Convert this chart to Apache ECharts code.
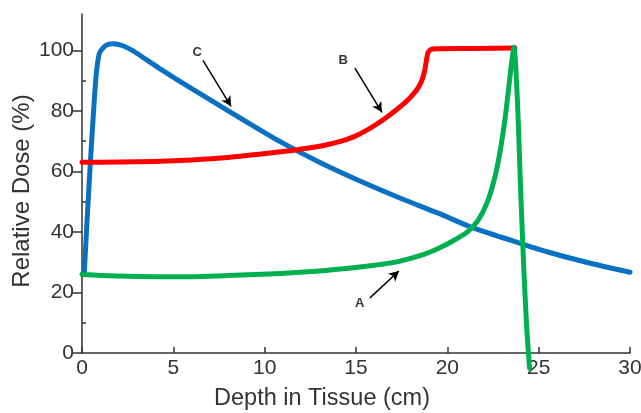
<!DOCTYPE html>
<html>
<head>
    <meta charset="UTF-8">
    <title>Relative Dose vs Depth</title>
    <script src="https://cdn.jsdelivr.net/npm/echarts@6/dist/echarts.min.js"></script>
</head>
<body style="margin: 0;padding: 0;">
    <div id="container" style="width:641px; height:413px;"></div>
    <script>
        // curve C (blue)
        var depthC = [0.12, 0.4, 0.75, 0.95, 1.3, 1.7, 2.2, 2.8, 3.5, 4.3, 5.4, 7.2, 9.0, 10.8, 13, 15, 17.4, 19.5, 21.3, 23.5, 25.6, 28, 30];
        var doseC = [26, 57, 90, 99, 101.6, 102.2, 101.6, 99.8, 97.0, 93.8, 89.6, 83.0, 76.4, 70.0, 63, 57.4, 51.2, 46.2, 41.6, 37.2, 33.2, 29.4, 26.7];
        // curve B (red)
        var depthB = [0, 2, 4, 6, 8, 9.7, 11.6, 12.5, 13.4, 14.2, 14.9, 15.5, 16.1, 16.7, 17.2, 17.7, 18.1, 18.4, 18.6, 18.75, 18.85, 18.95, 19.1, 19.4, 21.5, 23.7];
        var doseB = [63, 63.1, 63.3, 63.8, 64.6, 65.7, 67, 67.8, 68.8, 70.0, 71.5, 73.3, 75.5, 78, 80.3, 82.8, 85.3, 87.6, 90, 93, 96.5, 99.3, 100.3, 100.5, 100.6, 100.8];
        // curve A (green)
        var depthA = [0, 1, 3, 5.5, 8, 10.9, 13, 14.6, 16, 17.3, 18.6, 19.5, 20.3, 21.1, 21.7, 22.2, 22.6, 22.9, 23.15, 23.35, 23.5, 23.65, 23.8, 23.9, 24.0, 24.1, 24.2, 24.35, 24.5];
        var doseA = [26, 25.6, 25.3, 25.2, 25.6, 26.3, 27.1, 28, 29, 30.2, 32.3, 34.5, 37, 40, 44, 50, 58, 67, 77, 87, 95, 101, 88, 73.6, 56, 40.6, 26, 8, -5];

        var xTicks = [0, 5, 10, 15, 20, 25, 30];
        var yTicks = [0, 20, 40, 60, 80, 100];
        var yMinorTicks = [10, 30, 50, 70, 90];

        // letters and arrows pointing at the curves
        var labelNames = ['C', 'B', 'A'];
        var labelPos = [[6.3, 99.3], [14.3, 96.7], [15.2, 16.5]];
        var arrowFrom = [[6.62, 96.7], [14.94, 94.1], [15.76, 18.2]];
        var arrowTo = [[8.16, 81.5], [16.42, 79.5], [17.35, 27.1]];

        function zip(xs, ys) {
            return xs.map((x, i) => [x, ys[i]]);
        }

        var chart = echarts.init(document.getElementById('container'), null, {renderer: 'canvas'});
        var axisColor = '#333';
        var font = 'Liberation Sans, Arial, sans-serif';

        function curve(name, data, color, clip) {
            return {
                type: 'line',
                name: name,
                data: data,
                showSymbol: false,
                smooth: 0.25,
                clip: clip,
                lineStyle: {color: color, width: 5, cap: 'round', join: 'round'},
                z: 3
            };
        }

        var option = {
            animation: false,
            grid: {left: 82, right: 11, top: 14, bottom: 60, outerBoundsMode: 'none'},
            xAxis: {
                type: 'value',
                min: 0, max: 30, interval: 5,
                name: 'Depth in Tissue (cm)',
                nameLocation: 'middle',
                nameGap: 34,
                nameMoveOverlap: false,
                nameTextStyle: {fontSize: 23.5, color: axisColor, fontFamily: font, padding: [0, 68, 0, 0]},
                axisLine: {lineStyle: {color: axisColor, width: 1.5}},
                axisTick: {inside: true, length: 6, lineStyle: {color: axisColor, width: 1.5}, customValues: xTicks},
                axisLabel: {fontSize: 21, color: axisColor, fontFamily: font, margin: 5, customValues: xTicks},
                splitLine: {show: false}
            },
            yAxis: [{
                type: 'value',
                min: 0, max: 112,
                name: 'Relative Dose (%)',
                nameLocation: 'middle',
                nameGap: 48,
                nameMoveOverlap: false,
                nameTextStyle: {fontSize: 24, color: axisColor, fontFamily: font, padding: [0, 15, 0, 0]},
                axisLine: {lineStyle: {color: axisColor, width: 1.5}},
                axisTick: {length: 9, lineStyle: {color: axisColor, width: 1.5}, customValues: yTicks},
                axisLabel: {fontSize: 21, color: axisColor, fontFamily: font, margin: 8, customValues: yTicks},
                splitLine: {show: false}
            }, {
                type: 'value',
                min: 0, max: 112,
                position: 'left',
                axisLine: {show: false},
                axisTick: {inside: true, length: 4, lineStyle: {color: axisColor, width: 1.5}, customValues: yMinorTicks},
                axisLabel: {show: false},
                splitLine: {show: false}
            }],
            series: [
                curve('C', zip(depthC, doseC), '#0a70c2', true),
                curve('B', zip(depthB, doseB), '#ff0000', true),
                curve('A', zip(depthA, doseA), '#00b050', false),
                {
                    type: 'scatter',
                    symbolSize: 0,
                    data: labelPos.map((p, i) => [p[0], p[1], labelNames[i]]),
                    label: {
                        show: true,
                        position: 'inside',
                        formatter: (p) => p.value[2],
                        fontSize: 13,
                        fontWeight: 'bold',
                        color: '#000',
                        fontFamily: font
                    },
                    markLine: {
                        silent: true,
                        symbol: ['none', 'arrow'],
                        symbolSize: [8, 10],
                        label: {show: false},
                        lineStyle: {color: '#000', width: 1.5, type: 'solid'},
                        data: arrowFrom.map((f, i) => [{coord: f}, {coord: arrowTo[i]}])
                    },
                    z: 4
                }
            ]
        };
        chart.setOption(option);
    </script>
</body>
</html>
